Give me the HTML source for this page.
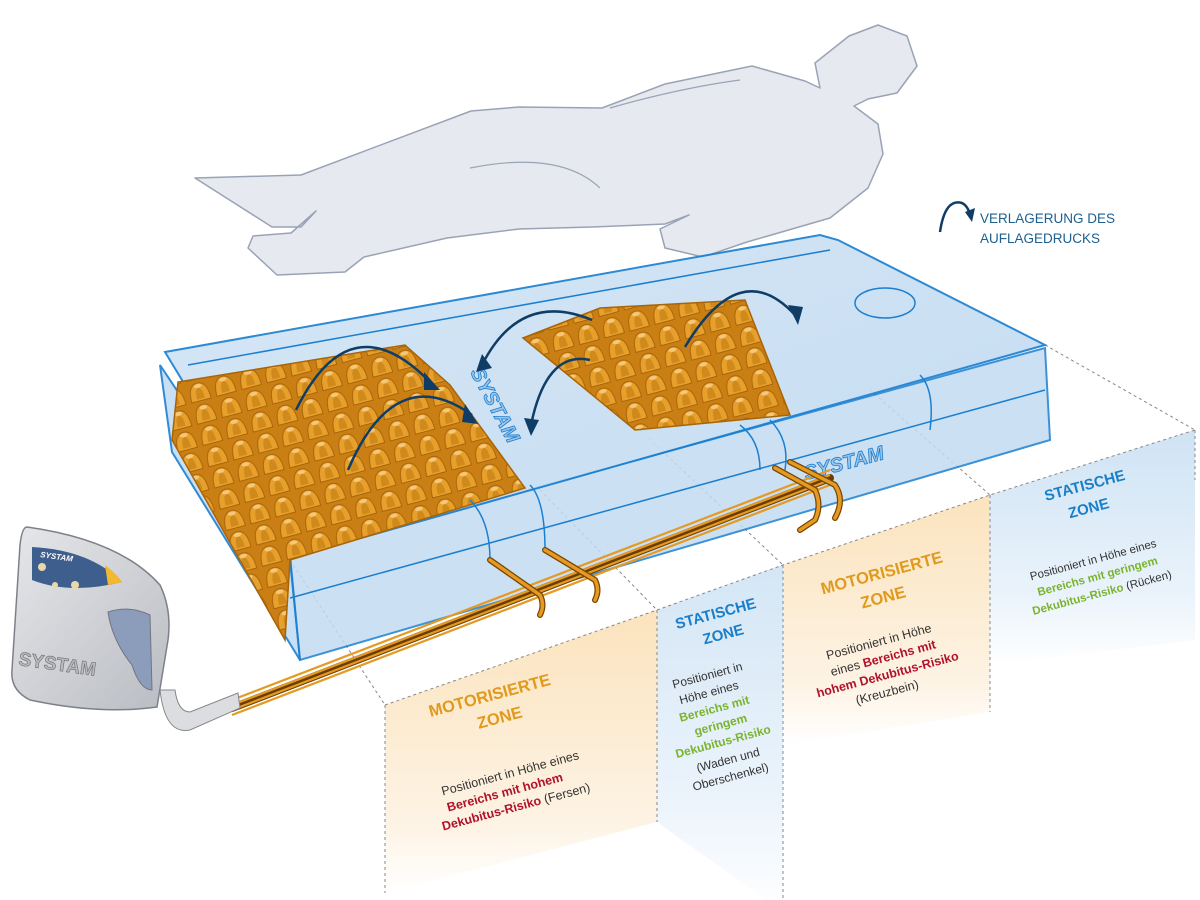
<!DOCTYPE html>
<html><head><meta charset="utf-8"><style>
html,body{margin:0;padding:0;background:#fff;}
svg{display:block;font-family:"Liberation Sans",sans-serif;}
</style></head><body>
<svg width="1200" height="900" viewBox="0 0 1200 900" xmlns="http://www.w3.org/2000/svg">
<defs>
<linearGradient id="og" x1="0" y1="0" x2="0" y2="1"><stop offset="0" stop-color="#fbe3bd"/><stop offset="0.75" stop-color="#fdf3e4"/><stop offset="1" stop-color="#ffffff"/></linearGradient>
<linearGradient id="bg" x1="0" y1="0" x2="0" y2="1"><stop offset="0" stop-color="#cfe3f4"/><stop offset="0.7" stop-color="#eaf3fb"/><stop offset="1" stop-color="#ffffff"/></linearGradient>
<linearGradient id="top" x1="0" y1="0" x2="1" y2="1"><stop offset="0" stop-color="#d3e5f6"/><stop offset="1" stop-color="#bfd9f1"/></linearGradient>
<linearGradient id="pg" x1="0" y1="0" x2="1" y2="1"><stop offset="0" stop-color="#e6e7ea"/><stop offset="1" stop-color="#b9bcc2"/></linearGradient>
<pattern id="bump" width="26" height="22" patternUnits="userSpaceOnUse" patternTransform="rotate(-15)">
<rect width="26" height="22" fill="#c97f14"/>
<path d="M3 21 Q3 3 13 3 Q23 3 23 21 Z" fill="#e8a02c" stroke="#a86508" stroke-width="1"/>
<path d="M9 19 Q9 8 13 8 Q17 8 17 19 Z" fill="#d08a1c"/>
<ellipse cx="13" cy="6" rx="4" ry="2" fill="#f4c77a"/>
</pattern>
</defs>

<!-- human -->
<path d="M195,178 L301,175 L471,111 L519,107 L602,108 L665,84 L752,66 L805,81 L820,88 L815,63 L849,36 L878,25 L907,36 L917,66 L897,93 L868,99 L854,106 L878,124 L883,154 L868,188 L830,218 L747,242 L703,257 L665,248 L660,229 L689,215 L665,224 L592,227 L519,229 L447,238 L364,257 L345,272 L277,275 L248,248 L253,236 L291,233 L316,211 L301,227 L272,227 L228,199 Z" fill="#e6e9ef" stroke="#9aa3b5" stroke-width="1.5" stroke-linejoin="round"/>
<path d="M470,168 Q560,150 600,188" fill="none" stroke="#9aa3b5" stroke-width="1.2"/>
<path d="M610,108 Q680,88 740,80" fill="none" stroke="#9aa3b5" stroke-width="1.2"/>

<!-- legend -->
<path d="M940,232 Q945,198 962,203 Q968,206 970,215" fill="none" stroke="#0f3d66" stroke-width="2.5"/>
<path d="M965,212 L972,222 L975,208 Z" fill="#0f3d66"/>
<text x="980" y="223" font-size="13.5" fill="#1d5f8f">VERLAGERUNG DES</text>
<text x="980" y="243" font-size="13.5" fill="#1d5f8f">AUFLAGEDRUCKS</text>

<!-- zone panels -->
<polygon points="385,705 657,610 657,822 385,893" fill="url(#og)"/>
<polygon points="657,610 783,565 783,912 657,822" fill="url(#bg)" opacity="0.9"/>
<polygon points="783,565 990,495 990,712 783,745" fill="url(#og)"/>
<polygon points="990,495 1195,430 1195,640 990,665" fill="url(#bg)"/>
<g fill="none" stroke="#888" stroke-width="1" stroke-dasharray="3,3">
<line x1="385" y1="705" x2="385" y2="893"/><line x1="657" y1="610" x2="657" y2="822"/>
<line x1="783" y1="565" x2="783" y2="912"/><line x1="990" y1="495" x2="990" y2="712"/>
<line x1="1195" y1="430" x2="1195" y2="480"/>
<polyline points="385,705 657,610 783,565 990,495 1195,430"/>
<line x1="290" y1="560" x2="385" y2="705"/><line x1="540" y1="490" x2="657" y2="610"/>
<line x1="640" y1="430" x2="783" y2="565"/><line x1="870" y1="390" x2="990" y2="495"/>
<line x1="1045" y1="345" x2="1195" y2="430"/>
</g>

<!-- mattress -->
<polygon points="160,365 290,560 300,660 172,452" fill="#c4dcf2" stroke="#1b7fd0" stroke-width="2" opacity="0.9"/>
<polygon points="290,555 1045,348 1050,440 300,660" fill="#c2dbf2" stroke="#1b7fd0" stroke-width="2" opacity="0.85"/>
<polygon points="165,352 820,235 838,240 1045,345 290,558" fill="url(#top)" stroke="#1b7fd0" stroke-width="2" opacity="0.92"/>
<line x1="290" y1="598" x2="1045" y2="390" stroke="#1b7fd0" stroke-width="1.5"/>
<line x1="188" y1="365" x2="830" y2="250" stroke="#1b7fd0" stroke-width="1.5"/>
<!-- bumps -->
<polygon points="178,382 405,345 450,385 525,488 290,560 285,640 172,440" fill="url(#bump)" stroke="#a86508" stroke-width="1.5"/>
<polygon points="523,338 600,308 745,300 790,415 635,430" fill="url(#bump)" stroke="#a86508" stroke-width="1.5"/>
<!-- logos -->
<text x="0" y="0" font-size="20" font-weight="bold" font-style="italic" fill="#9dc3e6" stroke="#1b7fd0" stroke-width="0.8" transform="translate(470,372) rotate(62)">SYSTAM</text>
<text x="0" y="0" font-size="20" font-weight="bold" font-style="italic" fill="#9dc3e6" stroke="#1b7fd0" stroke-width="0.8" transform="translate(806,480) rotate(-15)">SYSTAM</text>
<ellipse cx="885" cy="303" rx="30" ry="15" fill="none" stroke="#1b7fd0" stroke-width="1.5"/>
<!-- straps -->
<g fill="none" stroke="#1b7fd0" stroke-width="1.5">
<path d="M470,500 Q490,520 490,560"/><path d="M530,485 Q545,500 545,550"/>
<path d="M740,425 Q760,440 760,470"/><path d="M770,420 Q790,440 785,470"/>
<path d="M920,375 Q935,390 930,430"/>
</g>

<!-- tubes -->
<g fill="none" stroke="#6b3d00" stroke-width="8" stroke-linecap="round">
<line x1="232" y1="708" x2="830" y2="478"/>
</g>
<g fill="none" stroke="#e49a23" stroke-width="2.2">
<line x1="232" y1="700" x2="830" y2="470"/><line x1="232" y1="705" x2="830" y2="475"/><line x1="232" y1="710" x2="830" y2="480"/><line x1="232" y1="715" x2="830" y2="485"/>
</g>
<g fill="none" stroke="#7a4500" stroke-width="6" stroke-linecap="round">
<path d="M490,560 L540,595 Q545,605 540,615"/><path d="M545,550 L595,580 Q600,590 595,600"/>
<path d="M775,468 L815,490 Q822,505 815,520 L800,530"/><path d="M790,462 L835,485 Q845,500 835,518"/>
</g>
<g fill="none" stroke="#e49a23" stroke-width="3.5" stroke-linecap="round">
<path d="M490,560 L540,595 Q545,605 540,615"/><path d="M545,550 L595,580 Q600,590 595,600"/>
<path d="M775,468 L815,490 Q822,505 815,520 L800,530"/><path d="M790,462 L835,485 Q845,500 835,518"/>
</g>

<!-- arrows -->
<g fill="none" stroke="#0f3d66" stroke-width="2.5">
<path d="M296,410 Q350,300 430,382"/>
<path d="M348,470 Q395,360 472,415"/>
<path d="M482,365 Q520,290 592,320"/>
<path d="M590,360 Q545,350 530,430"/>
<path d="M685,347 Q740,255 795,315"/>
</g>
<g fill="#0f3d66">
<path d="M424,372 L440,390 L424,390 Z"/><path d="M465,404 L478,424 L462,422 Z"/>
<path d="M482,354 L476,372 L492,368 Z"/><path d="M524,418 L531,436 L539,420 Z"/>
<path d="M788,305 L798,325 L803,307 Z"/>
</g>

<!-- pump -->
<path d="M160,690 Q165,735 190,730 L240,708 L238,693 L190,712 Q178,712 175,690 Z" fill="#dcdde0" stroke="#888" stroke-width="1"/>
<path d="M27,527 Q120,540 160,585 Q172,610 168,640 L157,707 Q100,715 30,700 Q10,690 12,670 L20,545 Q22,527 27,527 Z" fill="url(#pg)" stroke="#7d8088" stroke-width="1.5"/>
<path d="M32,547 Q90,550 122,582 Q70,595 32,580 Z" fill="#3e5f8e"/>
<path d="M105,565 Q118,575 122,582 L108,585 Z" fill="#f2b830"/>
<text x="40" y="557" font-size="8" font-weight="bold" font-style="italic" fill="#fff" transform="rotate(8 40 557)">SYSTAM</text>
<circle cx="42" cy="567" r="4" fill="#e9d9a8"/><circle cx="75" cy="585" r="4" fill="#e9d9a8"/><circle cx="55" cy="585" r="3" fill="#e9d9a8"/>
<path d="M108,612 Q130,605 150,615 L152,690 Q140,690 132,665 Q112,640 108,612 Z" fill="#8b9dba" stroke="#707580" stroke-width="1"/>
<text x="18" y="665" font-size="19" font-weight="bold" fill="#b8bbc0" stroke="#777" stroke-width="0.7" transform="rotate(8 18 665)">SYSTAM</text>

<!-- panel texts -->
<g font-weight="bold" text-anchor="middle">
<g transform="rotate(-15 495 708)" fill="#e09a1e" font-size="16.5">
<text x="493" y="700">MOTORISIERTE</text><text x="497" y="724">ZONE</text></g>
<g transform="rotate(-15 510 792)" font-size="12.5">
<text x="515" y="778" fill="#333" font-weight="normal">Positioniert in Höhe eines</text>
<text x="505" y="795" fill="#b0122a">Bereichs mit hohem</text>
<text x="512" y="812"><tspan fill="#b0122a">Dekubitus-Risiko</tspan><tspan fill="#333" font-weight="normal"> (Fersen)</tspan></text></g>

<g transform="rotate(-15 720 630)" fill="#1a7fc8" font-size="15">
<text x="720" y="618">STATISCHE</text><text x="722" y="640">ZONE</text></g>
<g transform="rotate(-15 720 730)" font-size="12">
<text x="722" y="678" fill="#333" font-weight="normal">Positioniert in</text>
<text x="719" y="695" fill="#333" font-weight="normal">Höhe eines</text>
<text x="720" y="712" fill="#7ab32e">Bereichs mit</text>
<text x="722" y="729" fill="#7ab32e">geringem</text>
<text x="720" y="746" fill="#7ab32e">Dekubitus-Risiko</text>
<text x="720" y="765" fill="#333" font-weight="normal">(Waden und</text>
<text x="718" y="782" fill="#333" font-weight="normal">Oberschenkel)</text></g>

<g transform="rotate(-15 885 585)" fill="#e09a1e" font-size="16.5">
<text x="885" y="578">MOTORISIERTE</text><text x="880" y="602">ZONE</text></g>
<g transform="rotate(-15 885 665)" font-size="12.5">
<text x="885" y="645" fill="#333" font-weight="normal">Positioniert in Höhe</text>
<text x="885" y="662"><tspan fill="#333" font-weight="normal">eines </tspan><tspan fill="#b0122a">Bereichs mit</tspan></text>
<text x="885" y="679" fill="#b0122a">hohem Dekubitus-Risiko</text>
<text x="880" y="696" fill="#333" font-weight="normal">(Kreuzbein)</text></g>

<g transform="rotate(-15 1088 498)" fill="#1a7fc8" font-size="15">
<text x="1088" y="490">STATISCHE</text><text x="1086" y="513">ZONE</text></g>
<g transform="rotate(-15 1098 578)" font-size="11.5">
<text x="1098" y="563" fill="#333" font-weight="normal">Positioniert in Höhe eines</text>
<text x="1098" y="580" fill="#7ab32e">Bereichs mit geringem</text>
<text x="1098" y="597"><tspan fill="#7ab32e">Dekubitus-Risiko</tspan><tspan fill="#333" font-weight="normal"> (Rücken)</tspan></text></g>
</g>
</svg>
</body></html>
